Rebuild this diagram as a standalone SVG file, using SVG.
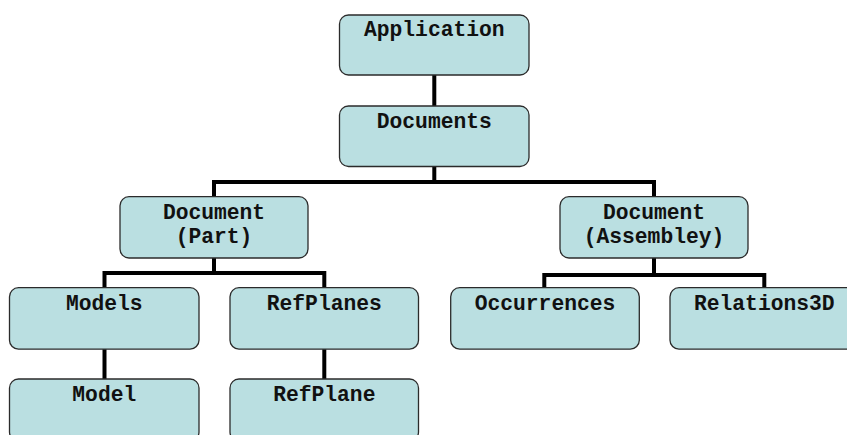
<svg xmlns="http://www.w3.org/2000/svg" width="847" height="435" viewBox="0 0 847 435">
<style>
.box{fill:#BADFE1;stroke:#2b2b2b;stroke-width:1.3}
.lbl{font-family:"Liberation Mono","Courier New",monospace;font-weight:bold;font-size:21.3px;fill:#111;text-anchor:middle}
.conn{fill:none;stroke:#000;stroke-width:4}
</style>
<rect width="847" height="435" fill="#fff"/>
<g id="connectors">
<path class="conn" d="M434.3 75V106M434.3 166V182M214 182H654M214 180V197M654 180V197M214 258V273M104.5 273H324.3M104.5 271V288M324.3 271V288M544.3 275H764.3M654 258V275M544.3 273V288M764.3 273V288M104.5 349V379M324.3 349V379"/>
</g>
<g id="n-application"><rect class="box" x="339.5" y="15" width="189.5" height="60" rx="9"/><text class="lbl" x="434.3" y="36">Application</text></g>
<g id="n-documents"><rect class="box" x="339.5" y="106" width="189.5" height="60.5" rx="9"/><text class="lbl" x="434.3" y="128.3">Documents</text></g>
<g id="n-docpart"><rect class="box" x="120" y="196.7" width="188" height="61.3" rx="9"/><text class="lbl" x="214" y="219.3">Document</text><text class="lbl" x="214" y="243.3">(Part)</text></g>
<g id="n-docasm"><rect class="box" x="560" y="196.7" width="188" height="61.3" rx="9"/><text class="lbl" x="654" y="219.3">Document</text><text class="lbl" x="654" y="243.3">(Assembley)</text></g>
<g id="n-models"><rect class="box" x="9.5" y="287.7" width="189.5" height="61.5" rx="9"/><text class="lbl" x="104.3" y="310">Models</text></g>
<g id="n-refplanes"><rect class="box" x="230" y="287.7" width="188.5" height="61.5" rx="9"/><text class="lbl" x="324.3" y="310">RefPlanes</text></g>
<g id="n-occurrences"><rect class="box" x="450.7" y="287.7" width="188.6" height="61.5" rx="9"/><text class="lbl" x="545" y="310">Occurrences</text></g>
<g id="n-relations"><rect class="box" x="670" y="287.7" width="188.6" height="61.5" rx="9"/><text class="lbl" x="764.3" y="310">Relations3D</text></g>
<g id="n-model"><rect class="box" x="9.5" y="379" width="189.5" height="62" rx="9"/><text class="lbl" x="104.3" y="401">Model</text></g>
<g id="n-refplane"><rect class="box" x="230" y="379" width="188.5" height="62" rx="9"/><text class="lbl" x="324.3" y="401">RefPlane</text></g>
</svg>
